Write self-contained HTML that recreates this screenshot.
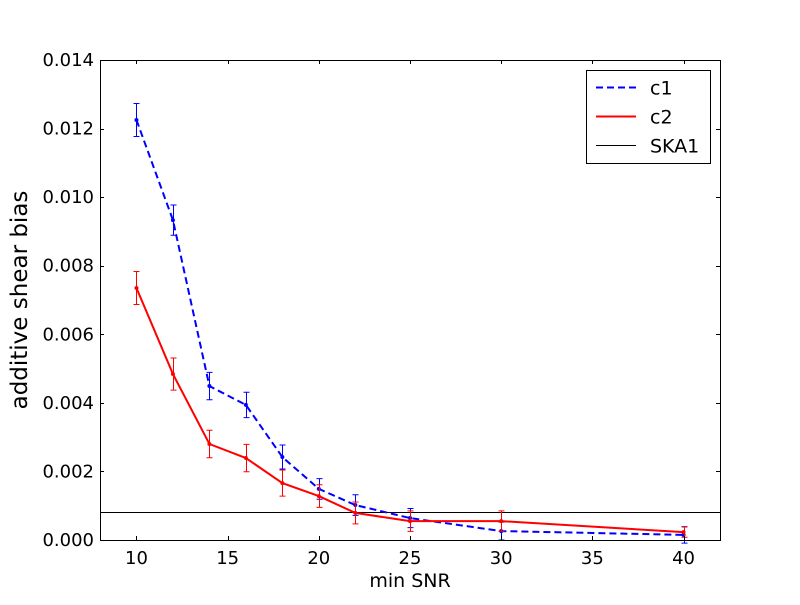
<!DOCTYPE html>
<html><head><meta charset="utf-8"><style>
body{margin:0;background:#fff;}
svg text{font-family:"DejaVu Sans","Liberation Sans",sans-serif;}
</style></head><body>
<svg id="chart" width="800" height="600" xmlns="http://www.w3.org/2000/svg">
<rect width="800" height="600" fill="#fff"/>
<g id="plot"></g>
</svg>
<script>
const xValues=[10,12,14,16,18,20,22,25,30,40];
const c1Values=[0.01225,0.00933,0.00449,0.00394,0.00242,0.00149,0.00102,0.00064,0.00026,0.00015];
const c1Errors=[0.00048,0.00044,0.0004,0.00037,0.00035,0.0003,0.0003,0.00028,0.00026,0.00024];
const c2Values=[0.00735,0.00484,0.0028,0.00239,0.00166,0.00128,0.00079,0.00055,0.00055,0.00023];
const c2Errors=[0.00048,0.00047,0.0004,0.0004,0.00038,0.00033,0.00032,0.0003,0.0003,0.00015];
const ska1Value=0.00082;
const xTicks=[10,15,20,25,30,35,40];
const yTicks=[0,0.002,0.004,0.006,0.008,0.010,0.012,0.014];
const yTickLabels=["0.000","0.002","0.004","0.006","0.008","0.010","0.012","0.014"];

const L=100,R=720,T=60,B=540,xmin=8,xmax=42,ymin=0,ymax=0.014;
const sx=v=>L+(v-xmin)/(xmax-xmin)*(R-L);
const sy=v=>B-(v-ymin)/(ymax-ymin)*(B-T);
const NS="http://www.w3.org/2000/svg";
const g=document.getElementById('plot');
function mk(tag,attrs,parent){const e=document.createElementNS(NS,tag);for(const k in attrs)e.setAttribute(k,attrs[k]);(parent||g).appendChild(e);return e;}

const skaY=Math.round(sy(ska1Value))+0.5;
const ska=mk('line',{x1:L,x2:R,y1:skaY,y2:skaY,stroke:'#000','stroke-width':1,'shape-rendering':'crispEdges'});



function series(vals,errs,color,dash,name){
  const grp=mk('g',{});
  
  
  mk('polyline',{points:xValues.map((x,i)=>sx(x)+','+sy(vals[i])).join(' '),fill:'none',stroke:color,'stroke-width':2,'stroke-dasharray':dash},grp);
  xValues.forEach((x,i)=>{
    const X=Math.round(sx(x))+0.5,y1=sy(vals[i]-errs[i]),y2=sy(vals[i]+errs[i]);
    const eb=mk('path',{d:`M${X},${y1}V${y2}M${X-3},${y1}H${X+3}M${X-3},${y2}H${X+3}`,stroke:color,'stroke-width':1,fill:'none'},grp);
    
    
    const pt=mk('circle',{cx:sx(x),cy:sy(vals[i]),r:2,fill:color},grp);
    
    
  });
}
series(c1Values,c1Errors,'#0000ff','7,4','c1');
series(c2Values,c2Errors,'#ff0000','','c2');

const fr=mk('rect',{x:L+0.5,y:T+0.5,width:R-L,height:B-T,fill:'none',stroke:'#000','stroke-width':1,'shape-rendering':'crispEdges'});



xTicks.forEach(t=>{
  const X=Math.round(sx(t))+0.5;
  mk('line',{x1:X,x2:X,y1:B,y2:B-4,stroke:'#000'});
  mk('line',{x1:X,x2:X,y1:T,y2:T+4,stroke:'#000'});
  const tx=mk('text',{x:sx(t),y:B+24,'text-anchor':'middle','font-size':18});
  tx.textContent=t;
  
  
});
yTicks.forEach((t,i)=>{
  const Y=Math.round(sy(t))+0.5;
  mk('line',{x1:L,x2:L+4,y1:Y,y2:Y,stroke:'#000'});
  mk('line',{x1:R,x2:R-4,y1:Y,y2:Y,stroke:'#000'});
  const tx=mk('text',{x:L-6,y:sy(t)+6,'text-anchor':'end','font-size':18});
  tx.textContent=yTickLabels[i];
  
  
});
const xt=mk('text',{x:(L+R)/2,y:587,'text-anchor':'middle','font-size':19});
xt.textContent='min SNR';


const yt=mk('text',{x:0,y:0,'text-anchor':'middle','font-size':23,transform:`translate(27,${(T+B)/2}) rotate(-90)`});
yt.textContent='additive shear bias';



const lg=mk('g',{});


mk('rect',{x:586.5,y:70.5,width:124,height:93,fill:'#fff',stroke:'#000','shape-rendering':'crispEdges'},lg);
const entries=[['c1','#0000ff','7,4',2],['c2','#ff0000','',2],['SKA1','#000','',1]];
entries.forEach((e,i)=>{
  const Y=87.5+i*29;
  const eg=mk('g',{},lg);
  
  
  mk('line',{x1:596,x2:636,y1:Y,y2:Y,stroke:e[1],'stroke-width':e[3],'stroke-dasharray':e[2]},eg);
  const t=mk('text',{x:650,y:Y+7,'font-size':19},eg);
  t.textContent=e[0];
});
</script>
</body></html>
